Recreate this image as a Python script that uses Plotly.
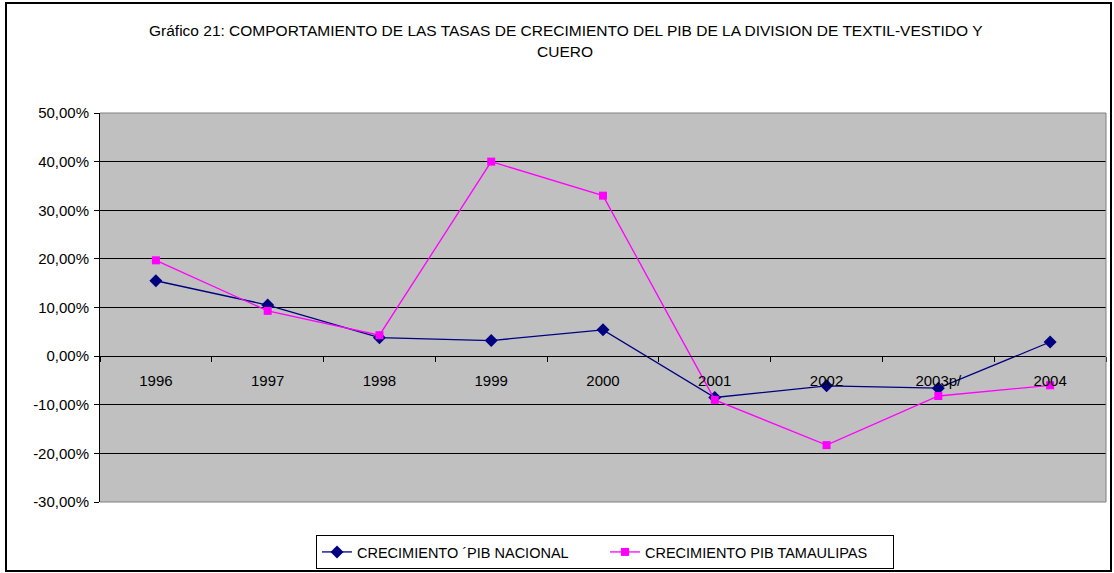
import plotly.graph_objects as go

years = ["1996", "1997", "1998", "1999", "2000", "2001", "2002", "2003p/", "2004"]
nacional = [0.155, 0.105, 0.038, 0.032, 0.054, -0.085, -0.061, -0.066, 0.029]
tamaulipas = [0.197, 0.093, 0.043, 0.400, 0.330, -0.090, -0.183, -0.082, -0.060]
ytick_vals = [-0.3, -0.2, -0.1, 0.0, 0.1, 0.2, 0.3, 0.4, 0.5]
ytick_text = ["-30,00%", "-20,00%", "-10,00%", "0,00%", "10,00%", "20,00%", "30,00%", "40,00%", "50,00%"]
title1 = "Gráfico 21: COMPORTAMIENTO DE LAS TASAS DE CRECIMIENTO DEL PIB DE LA DIVISION DE TEXTIL-VESTIDO Y"
title2 = "CUERO"

W, H = 1114, 573
L, R, T, B = 100, 8, 113, 71
pw = W - L - R
ph = H - T - B

def px_x(x):
    return (x - L) / pw

def px_y(y):
    return (H - B - y) / ph

FONT = "Liberation Sans, Arial, sans-serif"

fig = go.Figure()
fig.add_trace(go.Scatter(
    x=years, y=nacional, mode="lines+markers", name="CRECIMIENTO ´PIB NACIONAL",
    line=dict(color="#000080", width=1.3),
    marker=dict(symbol="diamond", size=10, color="#000080"),
))
fig.add_trace(go.Scatter(
    x=years, y=tamaulipas, mode="lines+markers", name="CRECIMIENTO PIB TAMAULIPAS",
    line=dict(color="#FF00FF", width=1.3),
    marker=dict(symbol="square", size=8, color="#FF00FF"),
))

ymin, ymax = -0.3, 0.5
zero_pos = (0 - ymin) / (ymax - ymin)

fig.update_layout(
    width=W, height=H,
    margin=dict(l=L, r=R, t=T, b=B, autoexpand=False),
    paper_bgcolor="white",
    plot_bgcolor="#C0C0C0",
    font=dict(family=FONT, size=14, color="black"),
    showlegend=True,
    legend=dict(
        orientation="h", x=px_x(605), xanchor="center", y=px_y(535), yanchor="top",
        bordercolor="black", borderwidth=1, bgcolor="white",
        font=dict(size=14.5, family=FONT), tracegroupgap=0,
        entrywidth=243, entrywidthmode="pixels",
    ),
    xaxis=dict(
        type="category", anchor="free", position=zero_pos,
        showline=True, linecolor="black", linewidth=1,
        ticks="outside", ticklen=5, tickcolor="black", tickson="boundaries",
        showgrid=False, ticklabelstandoff=11,
        tickfont=dict(size=15, family=FONT),
        range=[-0.5, len(years) - 0.5], fixedrange=True,
    ),
    yaxis=dict(
        range=[ymin, ymax], tickvals=ytick_vals, ticktext=ytick_text,
        showgrid=True, gridcolor="black", gridwidth=1,
        showline=True, linecolor="black", linewidth=1,
        ticks="outside", ticklen=5, tickcolor="black", ticklabelstandoff=2,
        zeroline=False, tickfont=dict(size=15, family=FONT), fixedrange=True,
    ),
    annotations=[
        dict(text=title1, x=px_x(565), y=px_y(30), xref="paper", yref="paper",
             showarrow=False, xanchor="center", yanchor="middle",
             font=dict(size=15.5, family=FONT)),
        dict(text=title2, x=px_x(565), y=px_y(52), xref="paper", yref="paper",
             showarrow=False, xanchor="center", yanchor="middle",
             font=dict(size=15.5, family=FONT)),
    ],
    shapes=[
        dict(type="rect", xref="paper", yref="paper",
             x0=px_x(6), x1=px_x(1111), y0=px_y(571), y1=px_y(3),
             line=dict(color="black", width=2), fillcolor="rgba(0,0,0,0)", layer="below"),
        dict(type="line", xref="paper", yref="paper", x0=0, x1=1, y0=1, y1=1,
             line=dict(color="#808080", width=1)),
        dict(type="line", xref="paper", yref="paper", x0=1, x1=1, y0=0, y1=1,
             line=dict(color="#808080", width=1)),
        dict(type="line", xref="paper", yref="paper", x0=0, x1=1, y0=0, y1=0,
             line=dict(color="#808080", width=1)),
    ],
)

fig.write_html(
    "out.html",
    config={"displayModeBar": False},
    post_script="document.body.style.margin='0';document.body.style.overflow='hidden';",
)
